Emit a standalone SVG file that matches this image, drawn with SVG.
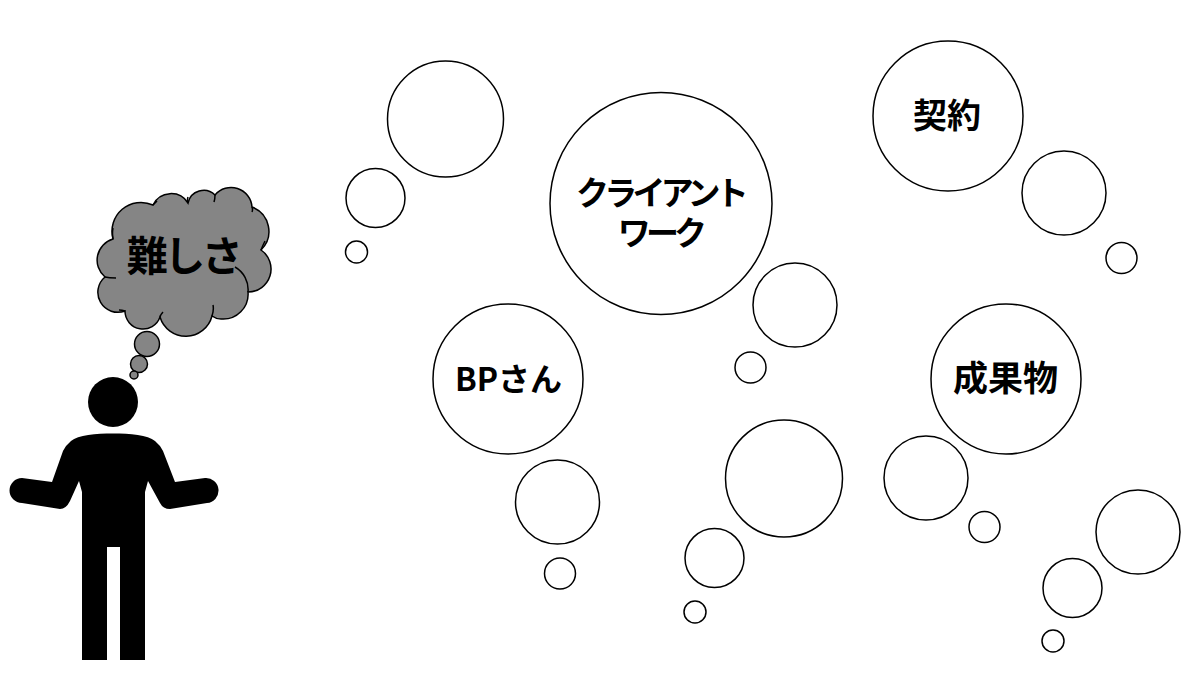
<svg xmlns="http://www.w3.org/2000/svg" width="1200" height="676" viewBox="0 0 1200 676">
<style>
.b{fill:#fff;stroke:#000;stroke-width:1.5}
.g{fill:#858585;stroke:#000;stroke-width:1.5}
.s{fill:none;stroke:#000;stroke-width:1.5}
text{font-family:"Noto Sans CJK JP","Noto Sans",sans-serif;font-weight:700;fill:#000;text-anchor:middle}
.n{letter-spacing:-4.800px;font-size:33px}
</style>
<rect width="1200" height="676" fill="#fff"/>
<g id="person">
<circle cx="113" cy="402" r="25" fill="#000"/>
<path fill="#000" d="M113 433.500C130 433.500 148 435 155 441Q160 445 163 451L175 482L205 478A12.500 12.500 0 0 1 207 503L170 509Q163 509 160 503L148 481L145 492V660H120V547H107V660H82V492L79 481L70 501Q66 509 60 509L22 503A12.500 12.500 0 0 1 22 478L52 482L63 451Q66 445 71 441C78 435 96 433.500 113 433.500Z"/>
</g>
<g id="cloud">
<path class="g" d="M113 239A29 29 0 0 1 153 205A20 20 0 0 1 188 203A16 16 0 0 1 215 195A21 21 0 0 1 252 207A26 26 0 0 1 261 250A23 23 0 0 1 248 292A25 25 0 0 1 221 319Q216 319 212 316A27 27 0 0 1 160 317A18 18 0 0 1 125 311A20 20 0 0 1 105 277A22 22 0 0 1 113 239Z"/>
<path class="s" d="M113 239Q112 233 113 228M153 205Q156 202 157 201M188 203Q187 200 188 197M215 195Q215 199 214 202M252 207Q253 210 252 212M261 250Q263 245 265 241M235 267A26 26 0 0 1 248 292M212 316Q214 310 213 305M160 317Q161 314 163 312M125 311Q122 310 119 310M105 277Q109 278 116 278"/>
<circle class="g" cx="147" cy="344" r="12.500"/>
<circle class="g" cx="139" cy="364" r="8.500"/>
<circle class="g" cx="134" cy="375" r="4"/>
<text x="183" y="271" font-size="41" letter-spacing="-3.500">難しさ</text>
</g>
<g id="bubble-1"><circle class="b" cx="445.500" cy="119" r="58"/><circle class="b" cx="375.500" cy="198" r="29.500"/><circle class="b" cx="356.500" cy="252" r="11"/></g>
<g id="bubble-2"><circle class="b" cx="661" cy="203.500" r="111"/><circle class="b" cx="795" cy="305" r="42"/><circle class="b" cx="750.500" cy="367.500" r="15.500"/>
<text class="n" x="660" y="205">クライアント</text><text class="n" x="660" y="245">ワーク</text></g>
<g id="bubble-3"><circle class="b" cx="948" cy="116" r="75"/><circle class="b" cx="1064" cy="193" r="42"/><circle class="b" cx="1121.500" cy="258" r="15.500"/>
<text x="947" y="128" font-size="34">契約</text></g>
<g id="bubble-4"><circle class="b" cx="508" cy="379" r="75"/><circle class="b" cx="557.500" cy="502" r="42"/><circle class="b" cx="560" cy="573.500" r="15.500"/>
<text x="508.500" y="391" font-size="32">BPさん</text></g>
<g id="bubble-5"><circle class="b" cx="784" cy="478.500" r="58.500"/><circle class="b" cx="714.500" cy="558" r="29.500"/><circle class="b" cx="695" cy="612" r="11"/></g>
<g id="bubble-6"><circle class="b" cx="1006" cy="379" r="75"/><circle class="b" cx="926" cy="478" r="42"/><circle class="b" cx="984.500" cy="527" r="15.500"/>
<text x="1005.500" y="391" font-size="35">成果物</text></g>
<g id="bubble-7"><circle class="b" cx="1138" cy="532" r="42"/><circle class="b" cx="1072.500" cy="588" r="29.500"/><circle class="b" cx="1053" cy="641" r="11"/></g>
</svg>
